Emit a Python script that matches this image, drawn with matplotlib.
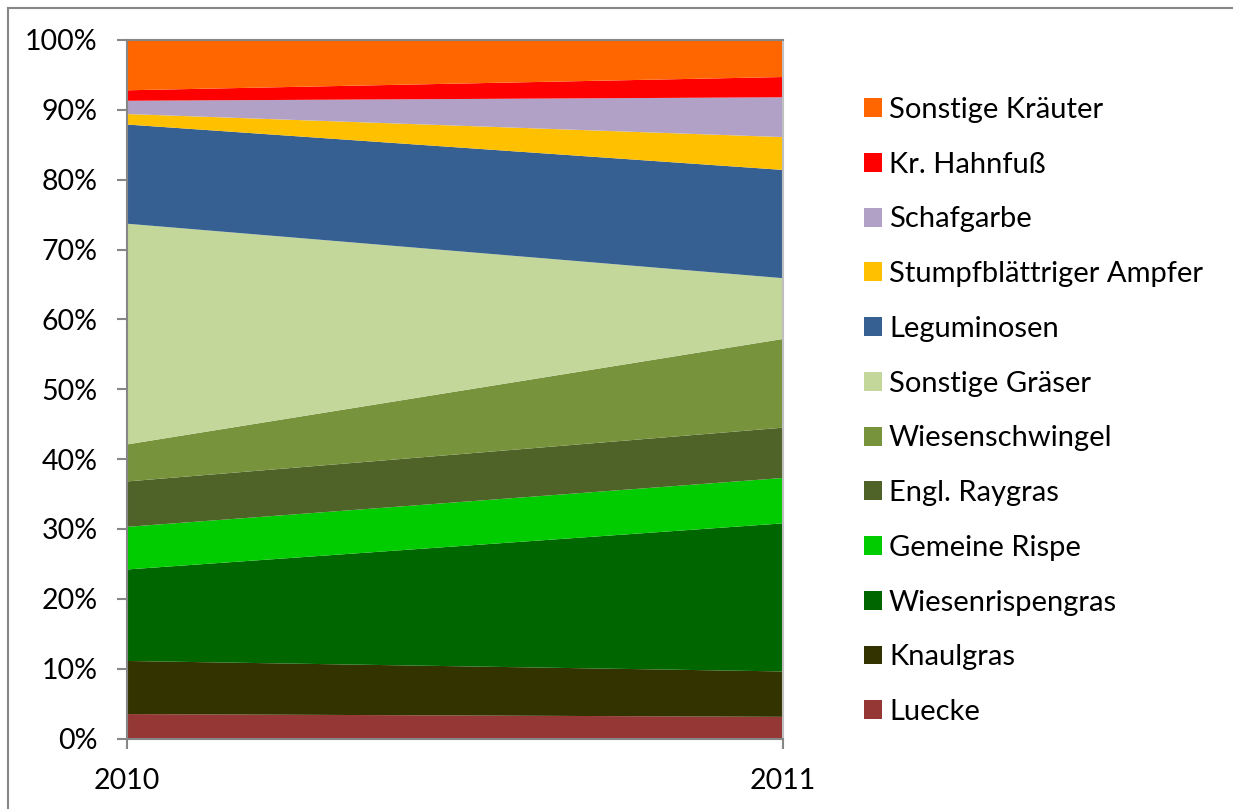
import matplotlib
matplotlib.use('Agg')
import matplotlib.pyplot as plt
from matplotlib.patches import Patch
from matplotlib.lines import Line2D
from matplotlib.ticker import FuncFormatter

plt.rcParams['font.family'] = ['Lato', 'DejaVu Sans']

years = [2010, 2011]
species = ['Luecke', 'Knaulgras', 'Wiesenrispengras', 'Gemeine Rispe', 'Engl. Raygras',
           'Wiesenschwingel', 'Sonstige Gräser', 'Leguminosen', 'Stumpfblättriger Ampfer',
           'Schafgarbe', 'Kr. Hahnfuß', 'Sonstige Kräuter']
# shares in percent, 2010 / 2011
luecke = [3.5, 3.1]
knaulgras = [7.6, 6.5]
wiesenrispengras = [13.1, 21.2]
gemeine_rispe = [6.1, 6.5]
engl_raygras = [6.5, 7.2]
wiesenschwingel = [5.3, 12.7]
sonstige_graeser = [31.6, 8.7]
leguminosen = [14.2, 15.5]
ampfer = [1.5, 4.7]
schafgarbe = [1.9, 5.7]
hahnfuss = [1.5, 2.9]
sonstige_kraeuter = [7.2, 5.3]

colors = ['#953735', '#333300', '#006600', '#00CC00', '#4F6228', '#77933C',
          '#C4D79B', '#376092', '#FFC000', '#B2A1C7', '#FF0000', '#FF6600']

values = [luecke, knaulgras, wiesenrispengras, gemeine_rispe, engl_raygras,
          wiesenschwingel, sonstige_graeser, leguminosen, ampfer, schafgarbe,
          hahnfuss, sonstige_kraeuter]

fig = plt.figure(figsize=(12.33, 8.09), dpi=100)
ax = fig.add_axes([127 / 1233, 1 - 738.5 / 809, (783 - 127) / 1233, (738.5 - 40) / 809])

ax.stackplot(years, *values, colors=colors, labels=species, linewidth=0)

ax.set_xlim(2010, 2011)
ax.set_ylim(0, 100)
ax.set_xticks(years)
ax.set_xticklabels([str(y) for y in years])
ax.set_yticks(range(0, 101, 10))
ax.yaxis.set_major_formatter(FuncFormatter(lambda v, p: '%d%%' % v))

gray = '#868686'
for side in ['left', 'bottom', 'top', 'right']:
    ax.spines[side].set_color(gray)
    ax.spines[side].set_linewidth(1.5)
ax.spines['right'].set_color('#BFBFBF')
ax.tick_params(axis='both', colors=gray, length=7, width=1.5, labelsize=20.5,
               labelcolor='black', direction='out')
ax.tick_params(axis='x', pad=14)
ax.tick_params(axis='y', pad=14)

handles = [Patch(facecolor=c, edgecolor='none') for c in colors][::-1]
fig.legend(handles, species[::-1], loc='center left',
           bbox_to_anchor=(852 / 1233, 1 - 411 / 809), frameon=False,
           fontsize=21, handlelength=0.62, handleheight=0.62, handletextpad=0.25,
           labelspacing=0.985, borderaxespad=0)

# outer chart border (top and left visible)
fig.add_artist(Line2D([8 / 1233, 1], [1 - 8 / 809, 1 - 8 / 809], color=gray, lw=1.5))
fig.add_artist(Line2D([8 / 1233, 8 / 1233], [0, 1 - 8 / 809], color=gray, lw=1.5))

fig.savefig('out.png', dpi=100)
